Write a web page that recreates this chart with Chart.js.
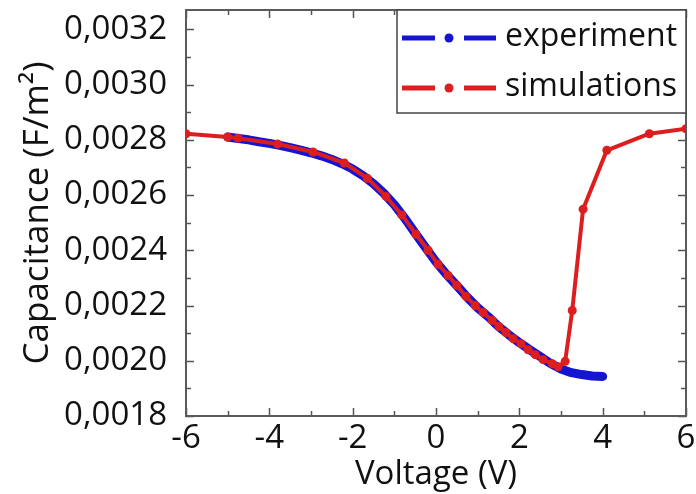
<!DOCTYPE html>
<html>
<head>
<meta charset="utf-8">
<script src="https://cdn.jsdelivr.net/npm/chart.js@4.4.1/dist/chart.umd.min.js"></script>
<style>
  html, body { margin: 0; padding: 0; background: #fff; }
</style>
</head>
<body>
<canvas id="myChart" width="696" height="494"></canvas>
<script>
// experiment (blue)
var expVoltage = [-5, -4.75, -4.5, -4.25, -4, -3.75, -3.5, -3.25, -3, -2.75, -2.5, -2.25, -2,
    -1.75, -1.5, -1.25, -1, -0.75, -0.5, -0.25, 0, 0.25, 0.5, 0.75, 1, 1.25, 1.5, 1.75, 2,
    2.25, 2.5, 2.75, 3, 3.25, 3.5, 3.75, 4];
var expCap = [0.002810, 0.002805, 0.002800, 0.002793, 0.002787, 0.002780, 0.002772, 0.002763,
    0.002753, 0.002742, 0.002729, 0.002713, 0.002694, 0.002670, 0.002641, 0.002606, 0.002565,
    0.002516, 0.002462, 0.002410, 0.002358, 0.002313, 0.002272, 0.002230, 0.002192, 0.002160,
    0.002124, 0.002094, 0.002066, 0.002040, 0.002015, 0.001990, 0.001970, 0.001957, 0.001950,
    0.001945, 0.001943];

// simulations (red)
var simVoltage = [-6, -5, -4.75, -3.8, -2.95, -2.2, -1.65, -1.2, -0.82, -0.48, -0.19, 0.05,
    0.29, 0.5, 0.72, 0.94, 1.13, 1.35, 1.51, 1.68, 1.85, 2.04, 2.21, 2.38, 2.57, 2.79, 2.93,
    3.1, 3.27, 3.53, 4.1, 5.12, 6];
var simCap = [0.002822, 0.002810, 0.002806, 0.002785, 0.002756, 0.002716, 0.002661, 0.002595,
    0.002528, 0.002458, 0.002400, 0.002349, 0.002309, 0.002273, 0.002233, 0.002200, 0.002175,
    0.002146, 0.002124, 0.002102, 0.002080, 0.002062, 0.002040, 0.002022, 0.002004, 0.001989,
    0.001978, 0.001998, 0.002182, 0.002549, 0.002762, 0.002822, 0.002840];

var xTicks = [-6, -4, -2, 0, 2, 4, 6];
var yTicks = [0.0018, 0.0020, 0.0022, 0.0024, 0.0026, 0.0028, 0.0030, 0.0032];

var BLUE = "#1414d2";
var RED = "#dc1e1e";
var FONT = "'Open Sans', sans-serif";

// box round the plot, inward ticks on all four sides
const framePlugin = {
    id: "frame",
    beforeDatasetsDraw(chart) {
        const { ctx, chartArea: a, scales: { x, y } } = chart;
        ctx.save();
        ctx.strokeStyle = "#555";
        ctx.lineWidth = 1.5;
        ctx.beginPath();
        for (let v = -6; v <= 6; v++) {
            const px = Math.round(x.getPixelForValue(v)) + 0.5;
            const len = v % 2 === 0 ? 8 : 5;
            ctx.moveTo(px, a.bottom); ctx.lineTo(px, a.bottom - len);
            ctx.moveTo(px, a.top); ctx.lineTo(px, a.top + len);
        }
        for (let k = 0; k <= 14; k++) {
            const py = Math.round(y.getPixelForValue(0.0018 + k * 0.0001)) + 0.5;
            const len = k % 2 === 0 ? 8 : 5;
            ctx.moveTo(a.left, py); ctx.lineTo(a.left + len, py);
            ctx.moveTo(a.right, py); ctx.lineTo(a.right - len, py);
        }
        ctx.stroke();
        ctx.lineWidth = 2;
        ctx.strokeStyle = "#5a5a5a";
        ctx.strokeRect(a.left, a.top, a.width, a.height);
        ctx.restore();
    }
};

// legend box in the top right corner: line - dot - line
const legendPlugin = {
    id: "boxLegend",
    afterDatasetsDraw(chart) {
        const { ctx, chartArea: a } = chart;
        const L = a.right - 289, T = a.top, W = 289, H = 103;
        ctx.save();
        ctx.fillStyle = "#fff";
        ctx.fillRect(L, T, W, H);
        ctx.strokeStyle = "#444";
        ctx.lineWidth = 1.5;
        ctx.strokeRect(L, T, W, H);
        chart.data.datasets.forEach((ds, i) => {
            const cy = T + 28 + i * 50;
            ctx.strokeStyle = ds.legendColor;
            ctx.fillStyle = ds.legendColor;
            ctx.lineWidth = 5;
            ctx.beginPath();
            ctx.moveTo(L + 5, cy); ctx.lineTo(L + 38, cy);
            ctx.moveTo(L + 67, cy); ctx.lineTo(L + 99, cy);
            ctx.stroke();
            ctx.beginPath();
            ctx.arc(L + 52, cy, 4.5, 0, Math.PI * 2);
            ctx.fill();
            ctx.fillStyle = "#111";
            ctx.font = "32px " + FONT;
            ctx.textBaseline = "middle";
            ctx.fillText(ds.label, L + 108, cy - 1);
        });
        ctx.restore();
    }
};

const data = {
    datasets: [
        {
            label: "experiment",
            legendColor: BLUE,
            data: expVoltage.map((v, i) => ({ x: v, y: expCap[i] })),
            showLine: true,
            borderColor: BLUE,
            backgroundColor: BLUE,
            borderWidth: 9,
            borderCapStyle: "round",
            borderJoinStyle: "round",
            pointRadius: 0,
            order: 2
        },
        {
            label: "simulations",
            legendColor: RED,
            data: simVoltage.map((v, i) => ({ x: v, y: simCap[i] })),
            showLine: true,
            borderColor: RED,
            backgroundColor: RED,
            borderWidth: 4,
            borderJoinStyle: "round",
            pointRadius: 4.5,
            pointBorderWidth: 0,
            pointBackgroundColor: RED,
            order: 1
        }
    ]
};

const config = {
    type: "scatter",
    data: data,
    options: {
        responsive: false,
        animation: false,
        layout: { padding: { top: 10, right: 10, left: 0, bottom: 0 } },
        plugins: { legend: { display: false }, tooltip: { enabled: false } },
        scales: {
            x: {
                type: "linear",
                min: -6,
                max: 6,
                afterBuildTicks: s => { s.ticks = xTicks.map(v => ({ value: v })); },
                afterFit: s => { s.height = 78; s.paddingLeft = 0; s.paddingRight = 0; },
                grid: { display: false },
                border: { display: false },
                ticks: { color: "#111", padding: -5, font: { family: FONT, size: 33 } },
                title: {
                    display: true,
                    text: "Voltage (V)",
                    color: "#111",
                    padding: { top: 0, bottom: 0 },
                    font: { family: FONT, size: 33 }
                }
            },
            y: {
                min: 0.0018,
                max: 0.00327,
                afterBuildTicks: s => { s.ticks = yTicks.map(v => ({ value: v })); },
                afterFit: s => { s.width = 186; s.paddingTop = 0; s.paddingBottom = 0; },
                grid: { display: false },
                border: { display: false },
                ticks: {
                    color: "#111",
                    padding: 11,
                    font: { family: FONT, size: 33 },
                    callback: v => v.toFixed(4).replace(".", ",")
                },
                title: {
                    display: true,
                    text: "Capacitance (F/m²)",
                    color: "#111",
                    padding: { top: 17, bottom: 0 },
                    font: { family: FONT, size: 35 }
                }
            }
        }
    },
    plugins: [framePlugin, legendPlugin]
};

const myChart = new Chart(document.getElementById("myChart"), config);
</script>
</body>
</html>
